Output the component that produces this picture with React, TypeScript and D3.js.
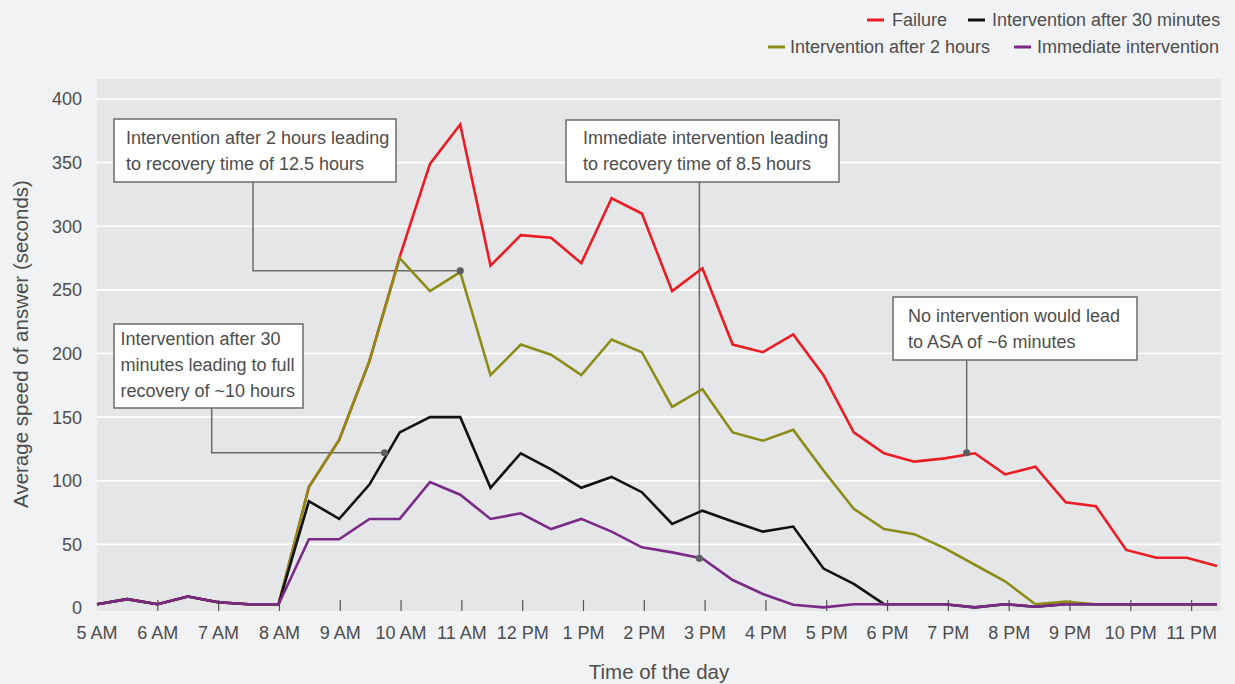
import React from "react";
import * as d3 from "d3";

// ---- data ----
const timeLabels = ["5 AM","6 AM","7 AM","8 AM","9 AM","10 AM","11 AM","12 PM","1 PM","2 PM","3 PM","4 PM","5 PM","6 PM","7 PM","8 PM","9 PM","10 PM","11 PM"];
const tickHours = [5,6,7,8,9,10,11,12,13,14,15,16,17,18,19,20,21,22,23];
const yTicks = [0,50,100,150,200,250,300,350,400];

// half-hour samples 5:00 AM .. 11:30 PM (38 points)
const failure = [3,7,3,9,4.5,3,3,95,132,194,276,349,380,269,293,291,271,322,310,249,267,207,201,215,183,138,121.6,115,117.6,121.6,105,111,83,80,45.6,39.5,39.5,33];
const after2h = [3,7,3,9,4.5,3,3,95,132,194,275,249,264,183,207,199,183,211,201,158,172,138,131.5,140,108,78,62,58,47,34,21,3,5,3,3,3,3,3];
const after30m = [3,7,3,9,4.5,3,3,84,70,97,138,150,150,94.5,121.6,109,94.5,103,91,66,76.5,68,60,64,31,19,3,3,3,0.5,3,1,3,3,3,3,3,3];
const immediate = [3,7,3,9,4.5,3,3,54,54,70,70,99,89,70,74.4,62,70,60,47.7,43.7,39,22,11,2.6,0.5,3,3,3,3,0.5,3,1,3,3,3,3,3,3];

const seriesNames = ["Failure","Intervention after 2 hours","Intervention after 30 minutes","Immediate intervention"];
const seriesValues = [failure, after2h, after30m, immediate];
const seriesColors = ["#ec1c24","#8c8c17","#111111","#7b2a87"];

const annotationTexts = [
  ["Intervention after 2 hours leading","to recovery time of 12.5 hours"],
  ["Intervention after 30","minutes leading to full","recovery of ~10 hours"],
  ["Immediate intervention leading","to recovery time of 8.5 hours"],
  ["No intervention would lead","to ASA of ~6 minutes"],
];
// target point of each annotation: [half-hour index, value]
const annotationTargets = [[12,265],[9.5,122],[19.9,39],[28.73,122]];

// ---- layout ----
const W = 1235, H = 684;
const plot = { left: 97, right: 1221, top: 79, bottom: 611 };
const boxes = [
  { x: 114, y: 119, w: 282, h: 63, tx: 126, ty: 143.5, lx: 253, mode: "elbow" },
  { x: 114, y: 324, w: 189, h: 84, tx: 120.5, ty: 345, lx: 211.7, mode: "elbow" },
  { x: 566, y: 120, w: 273, h: 62, tx: 583, ty: 143.5, lx: 0, mode: "vertical" },
  { x: 893, y: 297, w: 244, h: 63, tx: 908, ty: 321.7, lx: 0, mode: "vertical" },
];
const legendItems = [
  { s: 0, sx: 867, tx: 892, cy: 20 },
  { s: 2, sx: 968, tx: 992, cy: 20 },
  { s: 1, sx: 768, tx: 790, cy: 47 },
  { s: 3, sx: 1014, tx: 1037, cy: 47 },
];

const FONT = "'Liberation Sans', Arial, Helvetica, sans-serif";
const TXT = "#4d4d4d";

export default function App() {
  const x = d3.scaleLinear().domain([0, 37]).range([97, 1217]);
  const xt = d3.scaleLinear().domain([5, 23.5]).range([97, 1222]);
  const y = d3.scaleLinear().domain([0, 400]).range([608, 99]);
  const line = d3.line<number>().x((_, i) => x(i)).y((d) => y(d));
  const drawOrder = [0, 1, 2, 3];

  return (
    <svg width={W} height={H} style={{ position: "absolute", left: 0, top: 0, fontFamily: FONT }}>
      <rect x={0} y={0} width={W} height={H} fill="#f1f2f4" />
      <rect x={plot.left} y={plot.top} width={plot.right - plot.left} height={plot.bottom - plot.top} fill="#e5e6e8" />
      {yTicks.filter((t) => t > 0).map((t) => (
        <line key={t} x1={plot.left} x2={plot.right} y1={y(t)} y2={y(t)} stroke="#ffffff" strokeWidth={1.6} />
      ))}
      {yTicks.map((t) => (
        <text key={"yl" + t} x={82} y={y(t) + 6.4} textAnchor="end" fontSize={18} fill={TXT}>{t}</text>
      ))}
      {tickHours.map((h, i) => (
        <g key={"xt" + h}>
          {i > 0 && <line x1={xt(h)} x2={xt(h)} y1={600} y2={plot.bottom} stroke="#555" strokeWidth={1.2} />}
          <text x={xt(h)} y={638.5} textAnchor="middle" fontSize={18} fill={TXT}>{timeLabels[i]}</text>
        </g>
      ))}
      {/* annotation connectors */}
      {boxes.map((b, i) => {
        const [ti, tv] = annotationTargets[i];
        const px = x(ti), py = y(tv);
        const d = b.mode === "elbow"
          ? `M${b.lx},${b.y + b.h}V${py}H${px}`
          : `M${px},${b.y + b.h}V${py}`;
        return <path key={"c" + i} d={d} fill="none" stroke="#6b6b6b" strokeWidth={1.5} />;
      })}
      {drawOrder.map((s) => (
        <path key={"s" + s} d={line(seriesValues[s]) || ""} fill="none" stroke={seriesColors[s]} strokeWidth={2.6} strokeLinejoin="miter" />
      ))}
      {boxes.map((b, i) => {
        const [ti, tv] = annotationTargets[i];
        return <circle key={"d" + i} cx={x(ti)} cy={y(tv)} r={3.6} fill="#5e5e5e" />;
      })}
      {boxes.map((b, i) => (
        <g key={"b" + i}>
          <rect x={b.x} y={b.y} width={b.w} height={b.h} fill="#ffffff" stroke="#6b6b6b" strokeWidth={1.5} />
          {annotationTexts[i].map((t, j) => (
            <text key={j} x={b.tx} y={b.ty + j * 26} fontSize={18} fill={TXT}>{t}</text>
          ))}
        </g>
      ))}
      {legendItems.map((it) => (
        <g key={"lg" + it.s}>
          <line x1={it.sx} x2={it.sx + 17} y1={it.cy} y2={it.cy} stroke={seriesColors[it.s]} strokeWidth={3} />
          <text x={it.tx} y={it.cy + 6.4} fontSize={18} fill={TXT}>{seriesNames[it.s]}</text>
        </g>
      ))}
      <text x={(plot.left + plot.right) / 2} y={679} textAnchor="middle" fontSize={20.5} fill={TXT}>Time of the day</text>
      <text transform={`translate(28,${(plot.top + plot.bottom) / 2 - 1}) rotate(-90)`} textAnchor="middle" fontSize={20.5} fill={TXT}>Average speed of answer (seconds)</text>
    </svg>
  );
}
